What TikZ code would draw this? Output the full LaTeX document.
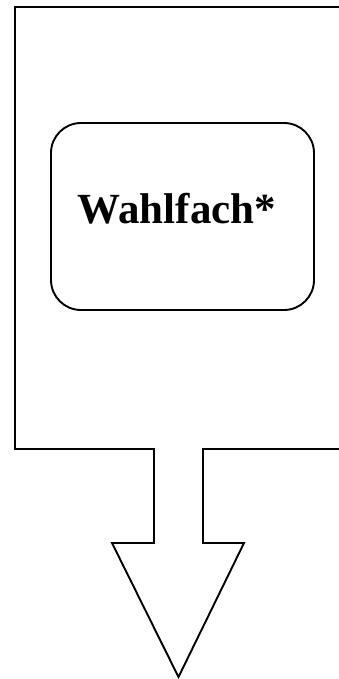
\documentclass[tikz,border=0pt]{standalone}
\usepackage{fontspec}
\setmainfont{Liberation Serif}
\begin{document}
\begin{tikzpicture}[x=1pt,y=-1pt,
  outline/.style={draw=black,line width=1.9pt,line join=miter},
  subjectbox/.style={draw=black,line width=1.9pt,rounded corners=30pt,
    minimum width=263pt,minimum height=187pt,inner sep=0pt},
  subjecttext/.style={inner sep=0pt,font=\fontsize{43}{48}\selectfont\bfseries}]
  \useasboundingbox (0,0) rectangle (338,679);
  % open frame that narrows into a downward arrow
  \draw[outline] (340,7) -- (15,7) -- (15,449) -- (154,449) -- (154,543)
    -- (112,543) -- (178.5,677) -- (244,543) -- (203,543) -- (203,449) -- (340,449);
  % elective subject box
  \node[subjectbox] (wahl) at (182.5,216.5) {};
  \node[subjecttext,anchor=base] (wahltext) at (177,223) {Wahlfach*};
\end{tikzpicture}
\end{document}
